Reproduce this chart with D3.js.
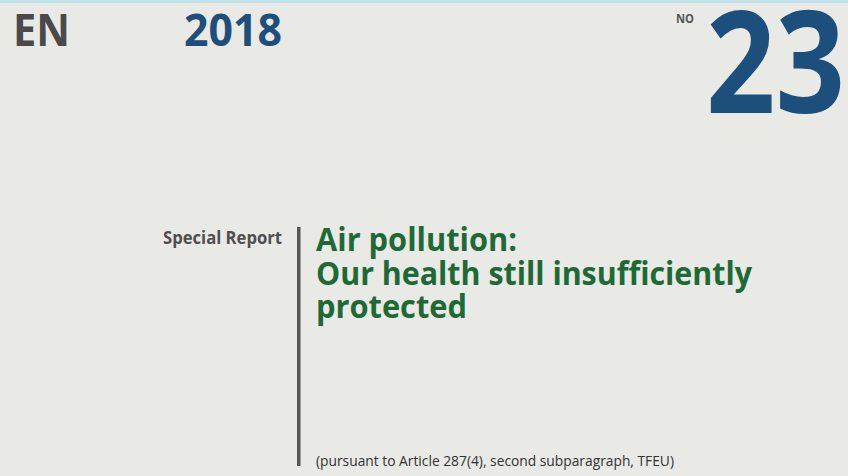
<!DOCTYPE html>
<html><head><meta charset="utf-8">
<script src="https://cdn.jsdelivr.net/npm/d3@7"></script>
<style>html,body{margin:0;padding:0;background:#e9e9e5;overflow:hidden}</style>
</head><body>
<script>
const languageCode = ["EN"];
const reportYear = ["2018"];
const numberLabel = ["NO"];
const reportNumber = ["23"];
const seriesLabel = ["Special Report"];
const titleLines = ["Air pollution:", "Our health still insufficiently", "protected"];
const footnote = ["(pursuant to Article 287(4), second subparagraph, TFEU)"];

const W = 848, H = 476;
const svg = d3.select("body").append("svg").attr("width", W).attr("height", H);
svg.append("rect").attr("width", W).attr("height", H).attr("fill", "#e9e9e5");
svg.append("rect").attr("width", W).attr("height", 3).attr("fill", "#bfe1ea");

const font = "'Open Sans', 'Noto Sans', sans-serif";
function txt(str, x, y, size, color, len, weight) {
  const t = svg.append("text").attr("x", x).attr("y", y)
    .attr("font-family", font).attr("font-size", size)
    .attr("font-weight", weight || 700).attr("fill", color).text(str);
  if (len) t.attr("textLength", len).attr("lengthAdjust", "spacingAndGlyphs");
  return t;
}

txt(languageCode[0], 13, 46, 44, "#4a4a4a", 57);
txt(reportYear[0], 184, 46, 44, "#1e4f7c", 98);
txt(numberLabel[0], 676, 23, 13, "#555555", 18);
txt(reportNumber[0], 706, 113, 142, "#1d4f7c", 139);

txt(seriesLabel[0], 163, 244, 17, "#4f4f4f", 119);

svg.append("rect").attr("x", 297).attr("y", 227).attr("width", 3.5).attr("height", 239).attr("fill", "#555555");

const titleY = d3.scaleLinear().domain([0, 1]).range([251, 284.5]);
const titleLens = [201, 436, 151];
svg.selectAll("text.title").data(titleLines).join("text")
  .attr("class", "title")
  .attr("x", 316).attr("y", (d, i) => titleY(i))
  .attr("font-family", font).attr("font-size", 33).attr("font-weight", 700)
  .attr("fill", "#1d6a36")
  .attr("textLength", (d, i) => titleLens[i]).attr("lengthAdjust", "spacingAndGlyphs")
  .text(d => d);

txt(footnote[0], 316, 466, 14, "#333333", 358, 400);
</script>
</body></html>
